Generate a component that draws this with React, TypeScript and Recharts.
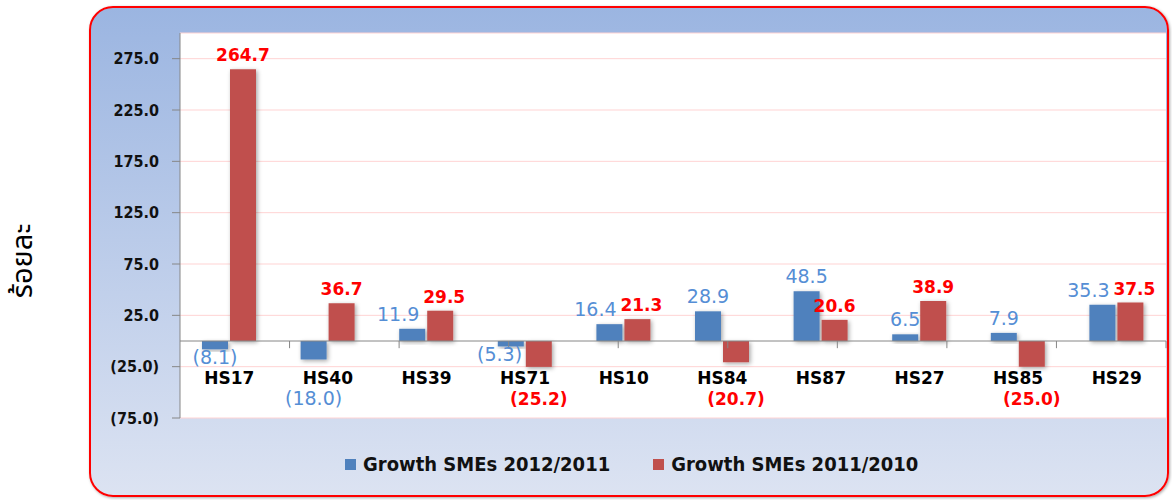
import { BarChart, Bar, XAxis, YAxis, CartesianGrid, ReferenceLine, Legend, LabelList } from 'recharts'

const categories = ['HS17', 'HS40', 'HS39', 'HS71', 'HS10', 'HS84', 'HS87', 'HS27', 'HS85', 'HS29']
const growth2012 = [-8.1, -18.0, 11.9, -5.3, 16.4, 28.9, 48.5, 6.5, 7.9, 35.3]
const growth2011 = [264.7, 36.7, 29.5, -25.2, 21.3, -20.7, 20.6, 38.9, -25.0, 37.5]
const seriesNames = ['Growth SMEs 2012/2011', 'Growth SMEs 2011/2010']
const yTicks = [-75, -25, 25, 75, 125, 175, 225, 275]
const yDomain = [-75, 300]
const yTitle = 'ร้อยละ'

const BLUE = '#4F81BD'
const RED = '#C0504D'
const BLUE_TEXT = '#558ED5'
const RED_TEXT = '#FF0000'
const seriesColors = [BLUE, RED]

const fmt = (v: number) => (v < 0 ? `(${Math.abs(v).toFixed(1)})` : v.toFixed(1))

const data = categories.map((name, i) => ({ name, g2012: growth2012[i], g2011: growth2011[i] }))
// category boundaries for the little tick marks on the zero line
const boundaries = categories.slice(1).map((_, i) => i + 1)

// true when both labels of a category sit at about the same height
function crowded(props: any, own: number, other: number) {
  if (own <= 0 || other <= 0) return false
  const pxPerUnit = Math.abs(props.height) / Math.abs(own)
  return Math.abs(own - other) * pxPerUnit < 20
}

function makeLabel(color: string, weight: number | string, size: number, own: number[], other: number[], nudge: number) {
  return (props: any) => {
    const { x, y, width, height, value, index } = props
    const v = Number(value)
    const top = Math.min(y, y + height)
    const bottom = Math.max(y, y + height)
    let cx = x + width / 2
    let ty: number
    if (v >= 0) {
      ty = top - 8
      if (crowded(props, own[index], other[index])) cx += nudge
    } else {
      const zero = top
      // deep negatives get pushed below the category label, like excel does
      if (bottom - zero > 12) {
        ty = zero + 64
      } else {
        ty = bottom + 15
        if (other[index] < 0) cx += nudge * 0.8
      }
    }
    return (
      <text x={cx} y={ty} textAnchor="middle" fill={color} fontSize={size} fontWeight={weight} fontFamily="DejaVu Sans">
        {fmt(v)}
      </text>
    )
  }
}

const CategoryTick = (props: any) => {
  const { x, y, payload } = props
  return (
    <text x={x} y={y - 34} textAnchor="middle" fill="#000" fontSize={17} fontWeight="bold" fontFamily="DejaVu Sans">
      {payload.value}
    </text>
  )
}

const LegendContent = () => (
  <div style={{ display: 'flex', alignItems: 'center', gap: 43, fontFamily: '"DejaVu Sans Condensed", "Liberation Sans Narrow", "DejaVu Sans", sans-serif', fontWeight: 'bold', fontSize: 20, color: '#111' }}>
    {seriesNames.map((name, i) => (
      <div key={name} style={{ display: 'flex', alignItems: 'center' }}>
        <span style={{ width: 11, height: 11, background: seriesColors[i], display: 'inline-block', marginRight: 7 }} />
        <span>{name}</span>
      </div>
    ))}
  </div>
)

const YTitle = () => (
  <text x={23} y={261} transform="rotate(-90, 23, 261)" textAnchor="middle" dominantBaseline="central" fontSize={29} fill="#000" fontFamily="'Noto Sans Thai', 'Noto Sans', sans-serif">
    {yTitle}
  </text>
)

export default function App() {
  return (
    <div style={{ position: 'absolute', left: 0, top: 0, width: 1172, height: 500, background: '#fff' }}>
      <svg width={0} height={0} style={{ position: 'absolute' }}>
        <defs>
          <filter id="barShadow" x="-30%" y="-30%" width="160%" height="160%">
            <feDropShadow dx={1.5} dy={1.5} stdDeviation={2} floodColor="#000" floodOpacity={0.35} />
          </filter>
        </defs>
      </svg>
      <div
        style={{
          position: 'absolute',
          left: 89,
          top: 6,
          width: 1080,
          height: 491,
          boxSizing: 'border-box',
          border: '2.5px solid #FF0000',
          borderRadius: 24,
          background: 'linear-gradient(to bottom, #9BB5E1 0%, #DCE3F2 100%)',
          boxShadow: '1px 1px 3px rgba(0,0,0,0.35)',
        }}
      />
      <div style={{ position: 'absolute', left: 0, top: 0 }}>
        <BarChart
          width={1172}
          height={500}
          data={data}
          margin={{ top: 33, right: 6, left: 0, bottom: 52 }}
          barCategoryGap={22}
          barGap={2}
        >
          <CartesianGrid vertical={false} stroke="#FFD3D3" fill="#fff" />
          <XAxis dataKey="name" height={30} axisLine={false} tickLine={false} tickSize={0} tickMargin={0} tick={<CategoryTick />} interval={0} />
          <XAxis xAxisId="num" type="number" domain={[0, categories.length]} hide height={0} allowDataOverflow />
          <YAxis
            width={180}
            domain={yDomain}
            ticks={yTicks}
            interval={0}
            allowDataOverflow
            stroke="#868686"
            tickSize={8}
            tickMargin={13}
            tickFormatter={fmt}
            tick={{ fill: '#111', fontSize: 16, fontWeight: 'bold', fontFamily: '"DejaVu Sans Condensed", "Liberation Sans Narrow", "DejaVu Sans", sans-serif' }}
            label={<YTitle />}
          />
          <Bar dataKey="g2012" name={seriesNames[0]} fill={BLUE} filter="url(#barShadow)" isAnimationActive={false}>
            <LabelList dataKey="g2012" content={makeLabel(BLUE_TEXT, 'normal', 19, growth2012, growth2011, -14)} />
          </Bar>
          <Bar dataKey="g2011" name={seriesNames[1]} fill={RED} filter="url(#barShadow)" isAnimationActive={false}>
            <LabelList dataKey="g2011" content={makeLabel(RED_TEXT, 'bold', 17, growth2011, growth2012, 4)} />
          </Bar>
          <ReferenceLine y={0} stroke="#868686" strokeWidth={1} />
          {boundaries.map((b) => (
            <ReferenceLine
              key={b}
              xAxisId="num"
              segment={[{ x: b, y: 0 }, { x: b, y: -7 }]}
              stroke="#868686"
              strokeWidth={1}
            />
          ))}
          <Legend
            verticalAlign="middle"
            align="center"
            layout="horizontal"
            content={<LegendContent />}
            wrapperStyle={{ top: 452, left: 345, width: 'auto' }}
          />
        </BarChart>
      </div>
    </div>
  )
}
